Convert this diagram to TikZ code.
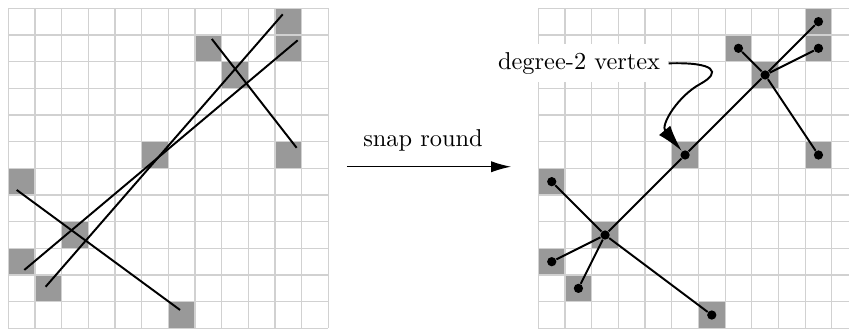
\documentclass[tikz,border=0pt]{standalone}
\usetikzlibrary{arrows.meta}
\definecolor{gridgray}{gray}{0.82}
\definecolor{cellgray}{gray}{0.6}
\newcommand\drawhotcells{%
  \foreach \c/\r in {10/0,10/1,7/1,8/2,5/5,10/5,0/6,2/8,0/9,1/10,6/11}
    \fill[hotcell] (\c,\r) rectangle ++(1,1);}
\newcommand\drawcellgrid{%
  \foreach \k in {0,...,12}{
    \draw[gridline] (\k,0) -- (\k,12);
    \draw[gridline] (0,\k) -- (12,\k);}}
\begin{document}
\begin{tikzpicture}[x=10.935pt,y=-10.935pt,
  gridline/.style={draw=gridgray,line width=0.5pt},
  hotcell/.style={fill=cellgray},
  seg/.style={line width=0.8pt},
  dot/.style={circle,fill=black,inner sep=0pt,minimum size=3.8pt},
  snaparrow/.style={line width=0.5pt,-{Latex[length=8.2pt,width=4.6pt]}},
  degarrow/.style={line width=0.8pt,-{Latex[length=11pt,width=6pt]}},
  lbl/.style={fill=white,anchor=base}]
\useasboundingbox (-0.311,-0.311) rectangle (31.52,11.99);
\clip (-0.311,-0.311) rectangle (31.52,11.99);

% ---------- left: input segments ----------
\begin{scope}
  \drawhotcells
  \drawcellgrid
  \coordinate (l1a) at (10.29,0.225);  \coordinate (l1b) at (1.40,10.44);
  \coordinate (l2a) at (10.85,1.20);   \coordinate (l2b) at (0.60,9.81);
  \coordinate (l3a) at (7.63,1.15);    \coordinate (l3b) at (10.81,5.23);
  \coordinate (l4a) at (0.315,6.81);   \coordinate (l4b) at (6.44,11.31);
  \draw[seg] (l1a) -- (l1b);
  \draw[seg] (l2a) -- (l2b);
  \draw[seg] (l3a) -- (l3b);
  \draw[seg] (l4a) -- (l4b);
\end{scope}

% ---------- middle arrow ----------
\coordinate (sa) at (12.69,5.94);
\coordinate (sb) at (18.85,5.94);
\draw[snaparrow] (sa) -- (sb);
\node[anchor=base] (snaplbl) at (15.55,5.19) {snap round};

% ---------- right: snap-rounded result ----------
\begin{scope}[shift={(19.875,0)}]
  \drawhotcells
  \drawcellgrid
  \node[dot] (A) at (10.5,0.5) {};
  \node[dot] (B) at (10.5,1.5) {};
  \node[dot] (C) at (7.5,1.5) {};
  \node[dot] (D) at (8.5,2.5) {};
  \node[dot] (E) at (5.5,5.5) {};
  \node[dot] (F) at (10.5,5.5) {};
  \node[dot] (G) at (0.5,6.5) {};
  \node[dot] (H) at (2.5,8.5) {};
  \node[dot] (I) at (0.5,9.5) {};
  \node[dot] (J) at (1.5,10.5) {};
  \node[dot] (K) at (6.5,11.5) {};
  \draw[seg] (A) -- (D);
  \draw[seg] (B) -- (D);
  \draw[seg] (C) -- (D);
  \draw[seg] (D) -- (F);
  \draw[seg] (D) -- (E);
  \draw[seg] (E) -- (H);
  \draw[seg] (H) -- (G);
  \draw[seg] (H) -- (I);
  \draw[seg] (H) -- (J);
  \draw[seg] (H) -- (K);
  \node[lbl] (deglbl) at (1.525,2.287) {degree-2 vertex};
  \draw[degarrow] (deglbl.east) .. controls (6.625,2.013) and (6.885,2.388) .. (6.065,2.838)
        .. controls (5.235,3.288) and (4.565,4.376) .. (E);
\end{scope}
\end{tikzpicture}
\end{document}
